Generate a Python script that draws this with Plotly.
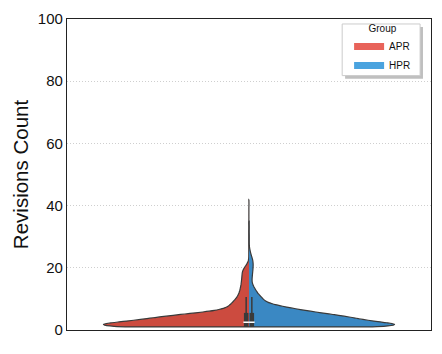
import numpy as np
import plotly.graph_objects as go

# ---- data ----
groups = ["APR", "HPR"]

# revision count values and how many PRs had that count
apr_values = [1, 2, 3, 4, 5, 6, 7, 8, 9, 10, 11, 12, 13, 14, 15, 16, 17, 18, 19, 20,
              21, 22, 23, 24, 25, 26, 27, 28, 29, 30, 31, 32, 34, 35, 37, 39, 42]
apr_counts = [850, 750, 560, 470, 350, 170, 110, 95, 80, 65, 55, 48, 44, 41, 38, 37, 35, 34, 33, 24,
              12, 3, 1, 1, 1, 1, 1, 1, 1, 1, 1, 1, 1, 1, 1, 1, 1]

hpr_values = [1, 2, 3, 4, 5, 6, 7, 8, 9, 10, 11, 12, 13, 14, 15, 16, 17, 18, 19, 20,
              21, 22, 23, 24, 25, 26, 27, 28, 29, 30, 31, 33, 35]
hpr_counts = [850, 750, 560, 530, 410, 300, 215, 130, 80, 70, 55, 40, 33, 22, 16, 14, 16, 17, 19, 20,
              21, 20, 17, 11, 7, 4, 1, 1, 1, 1, 1, 1, 1]

# inner box statistics: [APR, HPR]
box_low = [1.0, 1.0]
box_q1 = [1.0, 1.0]
box_median = [2.5, 2.5]
box_q3 = [5.5, 5.5]
box_high = [10.6, 10.6]

y_ticks = [0, 20, 40, 60, 80, 100]

# ---- styles ----
fill_colors = {"APR": "#CC4B3F", "HPR": "#3A88C3"}
legend_colors = {"APR": "#E8635A", "HPR": "#4AA3DF"}
edge = "#3a3a3a"
box_offsets = [-0.0078, 0.0078]
font = "Arial, Liberation Sans, sans-serif"

apr_samples = np.repeat(apr_values, apr_counts)
hpr_samples = np.repeat(hpr_values, hpr_counts)

fig = go.Figure()
for name, samples, side in [("APR", apr_samples, "negative"), ("HPR", hpr_samples, "positive")]:
    fig.add_trace(go.Violin(
        y=samples, x0=0, name=name, side=side,
        fillcolor=fill_colors[name], opacity=1,
        line=dict(color=edge, width=1.2),
        bandwidth=0.8, spanmode="hard", scalemode="width", width=0.8,
        points=False, box_visible=False, meanline_visible=False,
        showlegend=False, hoverinfo="skip",
    ))

for i, name in enumerate(groups):
    xo = box_offsets[i]
    fig.add_trace(go.Scatter(x=[xo, xo], y=[box_low[i], box_high[i]], mode="lines",
                             line=dict(color=edge, width=1.5), showlegend=False, hoverinfo="skip"))
    fig.add_trace(go.Scatter(x=[xo, xo], y=[box_q1[i], box_q3[i]], mode="lines",
                             line=dict(color=edge, width=4.5), showlegend=False, hoverinfo="skip"))
    fig.add_trace(go.Scatter(x=[xo], y=[box_median[i]], mode="markers",
                             marker=dict(symbol="line-ew", size=4, line=dict(color="white", width=1.5)),
                             showlegend=False, hoverinfo="skip"))

for name in groups:
    fig.add_trace(go.Scatter(x=[None], y=[None], mode="lines", name=name,
                             line=dict(color=legend_colors[name], width=7)))

# legend frame with a drop shadow (the legend itself is drawn transparent on top)
fig.add_shape(type="rect", xref="paper", yref="paper",
              x0=0.764, x1=0.978, y0=0.808, y1=0.974,
              fillcolor="rgba(0,0,0,0.25)", line=dict(width=0), layer="above")
fig.add_shape(type="rect", xref="paper", yref="paper",
              x0=0.756, x1=0.970, y0=0.818, y1=0.984,
              fillcolor="white", line=dict(color="#cccccc", width=1), layer="above")

fig.update_layout(
    width=442, height=354,
    margin=dict(l=67, r=10, t=17, b=24),
    paper_bgcolor="white", plot_bgcolor="white",
    font=dict(family=font, color="#111"),
    violinmode="overlay", violingap=0,
    xaxis=dict(type="linear", range=[-0.5, 0.5], showticklabels=False, ticks="",
               showgrid=False, zeroline=False, showline=True, mirror=True,
               linecolor="#222", linewidth=1.3),
    yaxis=dict(range=[0, 100], tickvals=y_ticks, ticks="", tickfont=dict(size=15, color="#111"),
               showgrid=True, gridcolor="#cfcfcf", griddash="1px,2px", gridwidth=0.8,
               zeroline=False, showline=True, mirror=True, linecolor="#222", linewidth=1.3,
               title=dict(text="Revisions Count", font=dict(size=20.5, color="#111"), standoff=3)),
    legend=dict(x=0.775, xanchor="left", y=1.0, yanchor="top",
                bgcolor="rgba(0,0,0,0)", borderwidth=0,
                font=dict(size=10, color="#111"),
                title=dict(text="Group", side="top center", font=dict(size=10, color="#111")),
                itemwidth=30, tracegroupgap=0),
)

fig.write_html("out.html")
